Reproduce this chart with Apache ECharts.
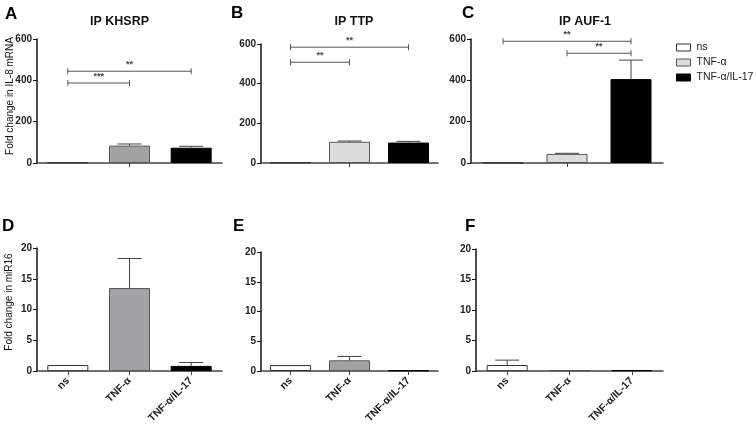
<!DOCTYPE html>
<html>
<head>
<meta charset="utf-8">
<script src="https://cdn.jsdelivr.net/npm/echarts@6/dist/echarts.min.js"></script>
<style>html,body{margin:0;padding:0;background:#fff}#c{width:756px;height:426px}</style>
</head>
<body>
<div id="c"></div>
<script>
const categories = ['ns', 'TNF-α', 'TNF-α/IL-17'];
const panelTitles = ['IP KHSRP', 'IP TTP', 'IP AUF-1'];
const panelLetters = ['A', 'B', 'C', 'D', 'E', 'F'];
const yTitleTop = 'Fold change in IL-8 mRNA';
const yTitleBottom = 'Fold change in miR16';

// IL-8 mRNA (top row)
const il8KHSRP = [3, 84, 74];
const il8KHSRPErr = [0, 8, 7];
const il8TTP = [3, 107, 103];
const il8TTPErr = [0, 4, 6];
const il8AUF1 = [1, 44, 406];
const il8AUF1Err = [0, 3, 92];
// miR16 (bottom row)
const mir16KHSRP = [1.0, 13.5, 0.85];
const mir16KHSRPErr = [0, 4.8, 0.55];
const mir16TTP = [1.0, 1.8, 0.1];
const mir16TTPErr = [0, 0.65, 0];
const mir16AUF1 = [1.0, 0.15, 0.15];
const mir16AUF1Err = [0.8, 0, 0];

// significance brackets: [fromCategory, toCategory, yValue]
const sigKHSRP = [[0, 1, 387], [0, 2, 444]];
const sigKHSRPText = ['***', '**'];
const sigTTP = [[0, 2, 584], [0, 1, 508]];
const sigTTPText = ['**', '**'];
const sigAUF1 = [[0, 2, 589], [1, 2, 531]];
const sigAUF1Text = ['**', '**'];

const topTicks = [0, 200, 400, 600];
const bottomTicks = [0, 5, 10, 15, 20];

const FONT = 'Liberation Sans, Arial, Helvetica, sans-serif';

const panels = [
  {grid: {left: 37, top: 39, width: 185, height: 124}, vals: il8KHSRP, err: il8KHSRPErr, top: true, tnf: '#a3a3a3', sig: sigKHSRP, sigText: sigKHSRPText},
  {grid: {left: 261, top: 44, width: 177, height: 119}, vals: il8TTP, err: il8TTPErr, top: true, tnf: '#dcdcdc', sig: sigTTP, sigText: sigTTPText},
  {grid: {left: 471, top: 39, width: 192, height: 124}, vals: il8AUF1, err: il8AUF1Err, top: true, tnf: '#dcdcdc', sig: sigAUF1, sigText: sigAUF1Text},
  {grid: {left: 37, top: 248, width: 185, height: 124}, vals: mir16KHSRP, err: mir16KHSRPErr, top: false, tnf: '#a2a2a6'},
  {grid: {left: 261, top: 252, width: 177, height: 119}, vals: mir16TTP, err: mir16TTPErr, top: false, tnf: '#a2a2a6'},
  {grid: {left: 476, top: 249, width: 187, height: 125}, vals: mir16AUF1, err: mir16AUF1Err, top: false, tnf: '#a2a2a6'}
];

const grids = [], xAxes = [], yAxes = [], series = [];

panels.forEach((p, gi) => {
  grids.push(Object.assign({containLabel: false}, p.grid));
  xAxes.push({
    type: 'category', gridIndex: gi, data: categories,
    axisLine: {lineStyle: {color: '#444', width: 1.5}},
    axisTick: {show: true, alignWithLabel: true, length: 4, lineStyle: {color: '#444'},
      interval: p.top ? function (i) { return i === 1; } : 0},
    axisLabel: p.top ? {show: false} : {show: true, rotate: 45, interval: 0, margin: 8,
      fontSize: 10.5, fontWeight: 'bold', color: '#222', fontFamily: FONT},
    splitLine: {show: false}
  });
  yAxes.push({
    type: 'value', gridIndex: gi, min: 0,
    max: p.top ? topTicks[topTicks.length - 1] : bottomTicks[bottomTicks.length - 1],
    interval: p.top ? topTicks[1] : bottomTicks[1],
    axisLine: {show: true, lineStyle: {color: '#111', width: 1.5}},
    axisTick: {show: true, length: 4, lineStyle: {color: '#111', width: 1}},
    axisLabel: {fontSize: 10, fontWeight: 'bold', color: '#222', margin: 5, fontFamily: FONT},
    splitLine: {show: false}
  });
  const colors = ['#ffffff', p.tnf, '#000000'];
  const borders = ['#333333', '#555555', '#000000'];
  categories.forEach((c, k) => {
    series.push({
      type: 'bar', name: c, xAxisIndex: gi, yAxisIndex: gi,
      data: p.vals.map((v, i) => i === k ? v : '-'),
      barWidth: 41, barGap: '-100%',
      itemStyle: {color: colors[k], borderColor: borders[k], borderWidth: 1},
      emphasis: {disabled: true}, z: 2
    });
  });
  // error bars
  series.push({
    type: 'custom', xAxisIndex: gi, yAxisIndex: gi, silent: true, z: 3,
    data: p.vals.map((v, i) => [i, v, v + p.err[i]]),
    encode: {x: 0, y: [1, 2]},
    renderItem: function (params, api) {
      const lo = api.value(1), hi = api.value(2);
      if (!(hi > lo)) return null;
      const a = api.coord([api.value(0), lo]);
      const b = api.coord([api.value(0), hi]);
      const hw = 12;
      return {type: 'group', children: [
        {type: 'line', shape: {x1: a[0], y1: a[1], x2: b[0], y2: b[1]}, style: {stroke: '#444', lineWidth: 1}},
        {type: 'line', shape: {x1: b[0] - hw, y1: b[1], x2: b[0] + hw, y2: b[1]}, style: {stroke: '#444', lineWidth: 1}}
      ]};
    }
  });
  if (p.sig) {
    series.push({
      type: 'custom', xAxisIndex: gi, yAxisIndex: gi, silent: true, z: 4, clip: false,
      data: p.sig,
      encode: {x: [0, 1], y: 2},
      renderItem: function (params, api) {
        const a = api.coord([api.value(0), api.value(2)]);
        const b = api.coord([api.value(1), api.value(2)]);
        const t = p.sigText[params.dataIndex];
        return {type: 'group', children: [
          {type: 'line', shape: {x1: a[0], y1: a[1], x2: b[0], y2: b[1]}, style: {stroke: '#555', lineWidth: 1}},
          {type: 'line', shape: {x1: a[0], y1: a[1] - 3, x2: a[0], y2: a[1] + 3}, style: {stroke: '#555', lineWidth: 1}},
          {type: 'line', shape: {x1: b[0], y1: b[1] - 3, x2: b[0], y2: b[1] + 3}, style: {stroke: '#555', lineWidth: 1}},
          {type: 'text', x: (a[0] + b[0]) / 2, y: a[1] - 2,
            style: {text: t, fill: '#444', font: 'bold 9px ' + FONT, align: 'center', verticalAlign: 'bottom',
              textAlign: 'center', textVerticalAlign: 'bottom'}}
        ]};
      }
    });
  }
});

const titleCenters = [[119.5, 22], [354, 22], [585, 22]];
const letterPos = [[5, 6], [231, 5], [462, 5], [2, 218], [233, 218], [465, 218]];

const graphic = [];
panelTitles.forEach((t, i) => {
  graphic.push({type: 'text', x: titleCenters[i][0], y: titleCenters[i][1],
    style: {text: t, font: 'bold 12.5px ' + FONT, fill: '#111', textAlign: 'center', textVerticalAlign: 'middle'}});
});
panelLetters.forEach((t, i) => {
  graphic.push({type: 'text', x: letterPos[i][0], y: letterPos[i][1],
    style: {text: t, font: 'bold 17px ' + FONT, fill: '#000', textAlign: 'left', textVerticalAlign: 'top'}});
});
graphic.push({type: 'text', x: 10, y: 96, rotation: Math.PI / 2,
  style: {text: yTitleTop, font: '10px ' + FONT, fill: '#111', textAlign: 'center', textVerticalAlign: 'middle'}});
graphic.push({type: 'text', x: 9, y: 302, rotation: Math.PI / 2,
  style: {text: yTitleBottom, font: '10px ' + FONT, fill: '#111', textAlign: 'center', textVerticalAlign: 'middle'}});

const chart = echarts.init(document.getElementById('c'), null, {renderer: 'canvas'});
chart.setOption({
  animation: false,
  backgroundColor: '#ffffff',
  grid: grids, xAxis: xAxes, yAxis: yAxes, series: series, graphic: graphic,
  legend: {
    orient: 'vertical', left: 676, top: 42, padding: 0, itemWidth: 14, itemHeight: 7, itemGap: 4,
    icon: 'rect', selectedMode: false,
    textStyle: {fontSize: 10.5, color: '#222', fontFamily: FONT, padding: [0, 0, 0, 1]},
    data: [
      {name: categories[0], itemStyle: {color: '#ffffff', borderColor: '#333', borderWidth: 1}},
      {name: categories[1], itemStyle: {color: '#dcdcdc', borderColor: '#555', borderWidth: 1}},
      {name: categories[2], itemStyle: {color: '#000000', borderColor: '#000', borderWidth: 1}}
    ]
  }
});
</script>
</body>
</html>
